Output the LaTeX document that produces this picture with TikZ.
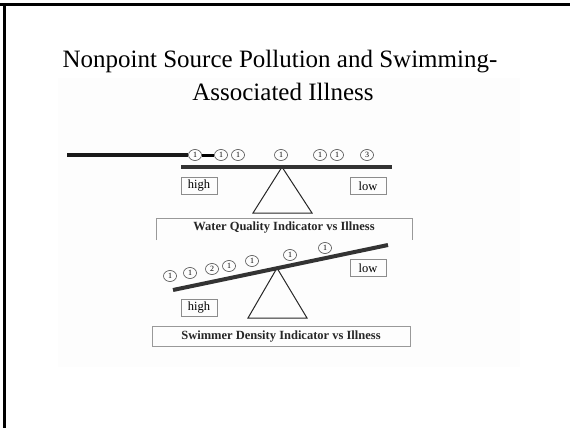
\documentclass[tikz,border=0pt]{standalone}
\usepackage{fontspec}
\setmainfont{Liberation Serif}
\usetikzlibrary{shapes.geometric}
\begin{document}
\begin{tikzpicture}[x=1pt,y=-1pt,
  beam/.style={line width=4pt,draw=black!80},
  lever/.style={line width=3.5pt,draw=black!90},
  pivot/.style={draw=black!85,line width=1pt},
  tag/.style={draw=black!45,line width=0.6pt,inner sep=1pt,minimum width=36pt,minimum height=17pt,font=\fontsize{12.5}{13}\selectfont},
  ring/.style={draw=black!70,ellipse,line width=0.6pt,inner sep=0pt,minimum width=13pt,minimum height=11pt,font=\fontsize{8}{8}\selectfont},
  caption/.style={font=\fontsize{12.5}{13}\selectfont\bfseries,text=black!85},
  capbox/.style={draw=black!40,line width=0.6pt}]
\useasboundingbox (0,0) rectangle (570,428);
\fill[white] (0,0) rectangle (570,428);
\fill[black!0.8] (58,78) rectangle (520,367);
\draw[line width=2.5pt] (0,4.5) -- (570,4.5);
\draw[line width=2.5pt] (4.5,3.3) -- (4.5,428);
% title
\node (t1) at (280,62) {\fontsize{25}{28}\selectfont Nonpoint Source Pollution and Swimming-};
\node (t2) at (283,92) {\fontsize{25}{28}\selectfont Associated Illness};
% ---- top seesaw
\coordinate (h0) at (67,155);
\node[ring] (a1) at (195,155) {1};
\node[ring] (a2) at (221,155) {1};
\node[ring] (a3) at (238,155) {1};
\node[ring] (a4) at (281,155) {1};
\node[ring] (a5) at (320,155) {1};
\node[ring] (a6) at (337,155) {1};
\node[ring] (a7) at (367,155) {3};
\draw[lever] (h0) -- (a1.west);
\draw[line width=3pt] (a1.east) -- (a2.west);
\coordinate (b1) at (181,167);
\coordinate (b2) at (392,167);
\coordinate (p1) at (282,167);
\coordinate (p1l) at (253,213);
\coordinate (p1r) at (312,213);
\draw[pivot] (p1l) -- (p1) -- (p1r) -- cycle;
\draw[beam] (b1) -- (b2);
\node[tag] (hi1) at (199,186) {high};
\node[tag] (lo1) at (368,186) {low};
\draw[capbox] (156,240) -- (156,218) -- (412,218) -- (412,240);
\node[caption] (c1) at (284,228) {Water Quality Indicator vs Illness};
% ---- bottom seesaw
\coordinate (d1) at (173,290);
\coordinate (d2) at (388,245);
\coordinate (p2) at (277,268);
\coordinate (p2l) at (248,318);
\coordinate (p2r) at (307,318);
\draw[pivot] (p2l) -- (p2) -- (p2r) -- cycle;
\draw[beam] (d1) -- (d2);
\node[ring] (e1) at (170,276) {1};
\node[ring] (e2) at (190,273) {1};
\node[ring] (e3) at (212,269) {2};
\node[ring] (e4) at (229,266) {1};
\node[ring] (e5) at (252,261) {1};
\node[ring] (e6) at (290,255) {1};
\node[ring] (e7) at (325,248) {1};
\node[tag] (lo2) at (368,268) {low};
\node[tag] (hi2) at (199,308) {high};
\draw[capbox] (152,346) -- (152,326) -- (410,326) -- (410,346) -- cycle;
\node[caption] (c2) at (281,337) {Swimmer Density Indicator vs Illness};
\end{tikzpicture}
\end{document}
